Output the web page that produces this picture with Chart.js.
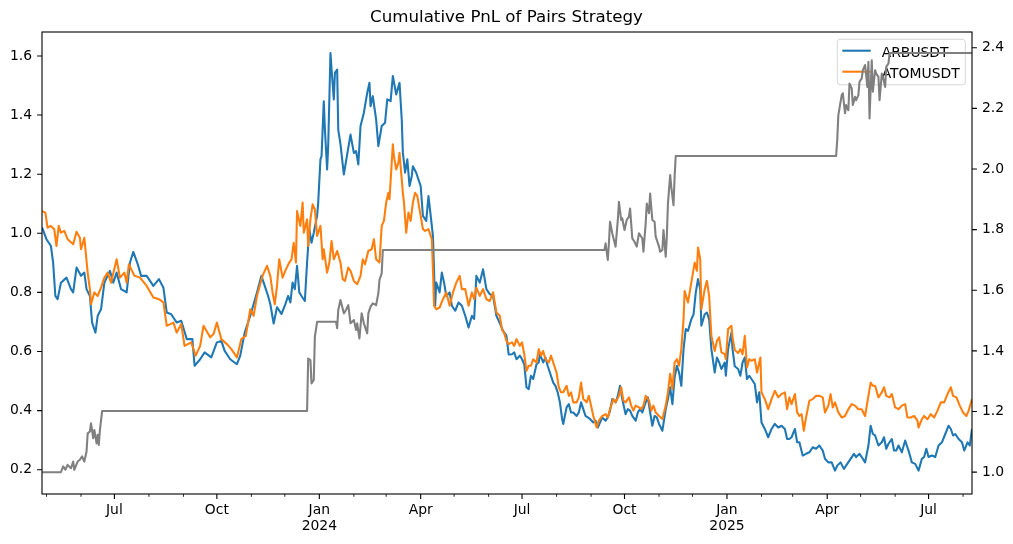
<!DOCTYPE html>
<html>
<head>
<meta charset="utf-8">
<title>Cumulative PnL of Pairs Strategy</title>
<script src="https://cdn.jsdelivr.net/npm/chart.js@4.4.1/dist/chart.umd.min.js"></script>
<style>
  html, body { margin: 0; padding: 0; background: #fff; }
  canvas { display: block; }
</style>
</head>
<body>
<canvas id="pnl_chart" width="1013" height="544"></canvas>
<script>
// x values are days counted from the first row (2023-04-27)
var startDate = Date.UTC(2023, 3, 27);
var lastDay = 835;
var monthNames = ["Jan", "Feb", "Mar", "Apr", "May", "Jun", "Jul", "Aug", "Sep", "Oct", "Nov", "Dec"];

var leftTicks = [0.2, 0.4, 0.6, 0.8, 1.0, 1.2, 1.4, 1.6];
var rightTicks = [1.0, 1.2, 1.4, 1.6, 1.8, 2.0, 2.2, 2.4];

// [day, cumulative pnl]
var arbPnl = [
  [0,1.020],[4,0.980],[8,0.957],[10,0.901],[12,0.788],[14,0.777],[17,0.833],[22,0.850],[26,0.811],[28,0.800],
  [31,0.884],[35,0.856],[38,0.867],[40,0.811],[43,0.788],[45,0.698],[48,0.664],[50,0.721],[53,0.743],[56,0.833],
  [61,0.873],[64,0.833],[67,0.867],[71,0.811],[76,0.800],[79,0.901],[82,0.937],[86,0.895],[89,0.856],[94,0.856],
  [100,0.822],[105,0.845],[109,0.816],[112,0.732],[116,0.726],[121,0.698],[125,0.704],[130,0.642],[135,0.642],[137,0.552],
  [142,0.574],[146,0.597],[152,0.580],[157,0.631],[161,0.636],[164,0.602],[169,0.574],[175,0.557],[178,0.586],[182,0.664],
  [187,0.721],[193,0.800],[197,0.856],[200,0.822],[203,0.788],[205,0.760],[208,0.695],[211,0.750],[215,0.727],[218,0.755],
  [221,0.788],[223,0.766],[225,0.833],[227,0.811],[229,0.890],[231,0.800],[233,0.788],[236,0.771],[238,0.901],[240,1.014],
  [242,0.968],[244,1.002],[247,1.059],[248,1.104],[250,1.250],[251,1.261],[253,1.447],[254,1.351],[256,1.216],[257,1.301],
  [259,1.610],[260,1.554],[262,1.453],[263,1.543],[265,1.554],[266,1.351],[268,1.301],[271,1.199],[273,1.244],[275,1.289],
  [277,1.334],[280,1.272],[282,1.278],[284,1.233],[286,1.363],[289,1.408],[292,1.475],[294,1.509],[295,1.430],[297,1.464],
  [300,1.385],[302,1.295],[305,1.363],[308,1.374],[310,1.453],[313,1.447],[315,1.532],[318,1.470],[321,1.509],[323,1.385],
  [324,1.272],[326,1.205],[328,1.250],[330,1.160],[332,1.194],[333,1.227],[336,1.205],[338,1.182],[340,1.160],[342,1.059],
  [345,1.042],[347,1.126],[349,1.059],[351,0.991],[353,0.755],[354,0.833],[357,0.800],[359,0.867],[361,0.833],[363,0.788],
  [366,0.800],[368,0.755],[371,0.738],[374,0.766],[377,0.755],[380,0.721],[383,0.681],[386,0.721],[388,0.710],[390,0.856],
  [393,0.833],[396,0.878],[399,0.811],[402,0.794],[405,0.788],[408,0.721],[411,0.696],[414,0.670],[417,0.653],[419,0.590],
  [422,0.591],[424,0.597],[426,0.574],[429,0.586],[431,0.574],[433,0.557],[435,0.479],[437,0.473],[439,0.518],[441,0.507],
  [444,0.557],[446,0.563],[447,0.591],[450,0.563],[452,0.580],[454,0.552],[456,0.529],[459,0.495],[461,0.484],[463,0.462],
  [465,0.428],[467,0.372],[468,0.355],[471,0.411],[473,0.422],[475,0.394],[477,0.394],[480,0.382],[482,0.394],[484,0.428],
  [486,0.405],[488,0.382],[490,0.377],[492,0.372],[495,0.360],[497,0.366],[499,0.343],[501,0.360],[503,0.377],[506,0.366],
  [508,0.377],[510,0.400],[512,0.439],[515,0.428],[517,0.450],[519,0.484],[521,0.439],[524,0.388],[526,0.405],[528,0.400],
  [530,0.382],[533,0.366],[535,0.394],[537,0.405],[539,0.394],[542,0.428],[544,0.445],[546,0.394],[548,0.349],[550,0.382],
  [552,0.377],[554,0.355],[557,0.332],[560,0.405],[562,0.439],[564,0.479],[566,0.422],[568,0.512],[570,0.552],[572,0.529],
  [574,0.484],[576,0.608],[578,0.676],[580,0.670],[583,0.709],[585,0.726],[587,0.800],[589,0.845],[591,0.811],[592,0.687],
  [595,0.726],[597,0.732],[599,0.709],[601,0.608],[604,0.529],[606,0.580],[608,0.563],[610,0.541],[613,0.563],[614,0.518],
  [616,0.608],[619,0.664],[620,0.608],[622,0.550],[625,0.541],[627,0.518],[629,0.563],[631,0.580],[633,0.507],[635,0.518],
  [637,0.507],[640,0.490],[642,0.428],[644,0.462],[646,0.360],[649,0.338],[652,0.310],[655,0.338],[658,0.355],[661,0.343],
  [664,0.349],[667,0.338],[669,0.304],[671,0.304],[673,0.310],[676,0.338],[678,0.293],[680,0.293],[683,0.248],[686,0.254],
  [689,0.259],[692,0.276],[695,0.271],[698,0.282],[701,0.265],[703,0.237],[706,0.225],[709,0.225],[712,0.197],[714,0.214],
  [717,0.225],[720,0.203],[723,0.220],[726,0.237],[729,0.254],[731,0.243],[734,0.254],[736,0.243],[739,0.225],[742,0.282],
  [744,0.349],[746,0.321],[748,0.316],[751,0.282],[754,0.293],[756,0.310],[758,0.271],[760,0.288],[763,0.304],[765,0.265],
  [767,0.265],[769,0.282],[772,0.259],[775,0.299],[778,0.265],[781,0.225],[784,0.220],[787,0.197],[790,0.237],[792,0.243],
  [794,0.271],[796,0.243],[799,0.248],[802,0.243],[805,0.282],[808,0.293],[811,0.321],[814,0.349],[816,0.338],[818,0.316],
  [820,0.321],[823,0.304],[826,0.293],[828,0.265],[831,0.293],[833,0.282],[835,0.338]
];

var atomPnl = [
  [0,1.075],[3,1.070],[5,1.019],[8,1.025],[11,1.014],[13,0.957],[15,1.025],[17,1.002],[20,1.008],[23,0.980],
  [28,0.963],[31,1.005],[34,0.985],[35,0.946],[38,0.985],[41,0.867],[43,0.811],[44,0.760],[47,0.800],[50,0.788],
  [53,0.816],[56,0.850],[59,0.867],[62,0.833],[67,0.912],[70,0.850],[74,0.867],[76,0.833],[78,0.895],[83,0.856],
  [88,0.850],[94,0.822],[100,0.783],[105,0.777],[109,0.766],[112,0.687],[118,0.698],[121,0.664],[125,0.693],[128,0.619],
  [134,0.631],[138,0.586],[142,0.619],[145,0.687],[151,0.648],[154,0.659],[157,0.698],[161,0.642],[166,0.625],[170,0.608],
  [175,0.580],[179,0.642],[183,0.653],[187,0.743],[190,0.721],[193,0.788],[198,0.856],[202,0.890],[205,0.856],[207,0.800],
  [209,0.760],[211,0.822],[213,0.912],[216,0.850],[219,0.878],[222,0.901],[224,0.912],[226,0.968],[228,0.901],[229,1.075],
  [232,1.025],[234,1.104],[235,1.002],[238,1.047],[239,0.957],[241,1.047],[243,1.098],[245,1.081],[247,0.991],[250,1.025],
  [252,0.912],[253,0.946],[256,0.867],[258,0.901],[260,0.974],[262,0.912],[265,0.940],[268,0.901],[270,0.845],[272,0.839],
  [275,0.884],[277,0.873],[280,0.839],[283,0.828],[286,0.856],[288,0.912],[290,0.895],[293,0.940],[296,0.946],[298,0.980],
  [300,0.912],[303,0.901],[305,1.025],[307,1.042],[309,1.104],[311,1.137],[312,1.115],[315,1.301],[316,1.261],[318,1.216],
  [320,1.239],[321,1.272],[324,1.137],[325,1.104],[327,1.002],[329,1.070],[331,1.042],[333,1.104],[335,1.137],[337,1.126],
  [339,1.081],[342,1.014],[344,1.008],[347,1.014],[350,0.980],[351,0.878],[352,0.755],[354,0.743],[357,0.749],[360,0.777],
  [363,0.800],[366,0.755],[369,0.800],[372,0.833],[375,0.856],[377,0.811],[380,0.811],[383,0.755],[386,0.800],[388,0.777],
  [390,0.816],[393,0.788],[396,0.811],[399,0.777],[402,0.771],[405,0.800],[408,0.732],[411,0.721],[413,0.675],[415,0.662],
  [417,0.636],[419,0.625],[422,0.631],[424,0.619],[426,0.642],[429,0.619],[431,0.631],[433,0.591],[435,0.535],[437,0.552],
  [439,0.552],[441,0.574],[444,0.563],[446,0.608],[448,0.586],[450,0.602],[452,0.574],[455,0.563],[457,0.586],[459,0.563],
  [462,0.529],[464,0.479],[466,0.462],[468,0.462],[471,0.484],[473,0.450],[475,0.462],[477,0.428],[480,0.428],[482,0.445],
  [484,0.495],[486,0.439],[489,0.428],[491,0.450],[493,0.417],[495,0.382],[498,0.343],[500,0.366],[503,0.382],[506,0.388],
  [508,0.377],[510,0.405],[513,0.439],[515,0.428],[518,0.450],[520,0.479],[522,0.434],[524,0.428],[527,0.445],[529,0.417],
  [531,0.400],[533,0.417],[536,0.411],[538,0.405],[540,0.417],[542,0.450],[545,0.434],[547,0.400],[549,0.417],[551,0.394],
  [554,0.382],[557,0.372],[560,0.417],[562,0.462],[564,0.525],[566,0.473],[568,0.563],[570,0.574],[572,0.552],[574,0.608],
  [576,0.709],[577,0.805],[580,0.766],[582,0.811],[584,0.856],[586,0.901],[588,0.873],[589,0.952],[591,0.912],[592,0.743],
  [595,0.811],[597,0.839],[599,0.788],[601,0.653],[604,0.602],[606,0.636],[608,0.648],[610,0.597],[613,0.591],[614,0.574],
  [616,0.676],[619,0.687],[620,0.648],[622,0.605],[625,0.595],[627,0.608],[629,0.591],[631,0.653],[633,0.546],[635,0.574],
  [637,0.569],[640,0.574],[642,0.529],[645,0.580],[646,0.462],[649,0.439],[652,0.405],[655,0.439],[658,0.467],[661,0.445],
  [664,0.456],[667,0.462],[669,0.405],[671,0.445],[673,0.422],[676,0.456],[678,0.394],[680,0.382],[682,0.388],[684,0.332],
  [686,0.377],[689,0.434],[692,0.439],[695,0.450],[698,0.450],[701,0.445],[703,0.394],[706,0.417],[708,0.456],[710,0.411],
  [712,0.428],[715,0.394],[718,0.377],[721,0.382],[724,0.405],[727,0.422],[730,0.417],[733,0.405],[736,0.405],[739,0.382],
  [742,0.450],[744,0.495],[746,0.484],[748,0.484],[751,0.445],[754,0.462],[756,0.479],[758,0.450],[761,0.445],[763,0.456],
  [766,0.411],[769,0.405],[772,0.417],[775,0.422],[777,0.377],[780,0.377],[783,0.382],[786,0.366],[787,0.343],[790,0.371],
  [792,0.382],[795,0.371],[798,0.388],[801,0.377],[804,0.400],[807,0.428],[810,0.428],[813,0.456],[816,0.479],[818,0.450],
  [821,0.445],[824,0.417],[827,0.394],[830,0.382],[832,0.400],[835,0.439]
];

// combined strategy pnl, right axis
var pairPnl = [
  [0,1.000],[17,1.000],[19,1.019],[21,1.008],[23,1.024],[26,1.013],[28,1.035],[29,1.008],[32,1.035],[34,1.041],
  [36,1.052],[38,1.035],[40,1.068],[41,1.128],[43,1.134],[44,1.161],[46,1.112],[47,1.139],[49,1.095],[50,1.123],
  [51,1.090],[52,1.139],[54,1.202],[238,1.202],[239,1.375],[241,1.370],[242,1.293],[244,1.304],[245,1.447],[247,1.496],
  [264,1.496],[265,1.475],[266,1.535],[268,1.568],[271,1.524],[273,1.535],[275,1.551],[277,1.491],[280,1.502],[282,1.469],
  [283,1.491],[285,1.441],[287,1.524],[289,1.491],[292,1.458],[293,1.524],[295,1.546],[297,1.557],[300,1.551],[302,1.590],
  [303,1.634],[305,1.656],[306,1.733],[505,1.733],[506,1.755],[508,1.700],[509,1.755],[510,1.826],[512,1.788],[515,1.744],
  [517,1.832],[518,1.892],[520,1.832],[521,1.837],[523,1.799],[525,1.832],[527,1.843],[528,1.870],[530,1.771],[532,1.760],
  [534,1.744],[536,1.788],[539,1.771],[540,1.727],[542,1.820],[543,1.886],[545,1.854],[546,1.919],[548,1.832],[550,1.826],
  [551,1.777],[554,1.744],[555,1.727],[557,1.733],[558,1.799],[560,1.711],[561,1.777],[562,1.886],[564,1.980],[565,1.941],
  [567,1.881],[568,1.975],[569,2.043],[713,2.043],[714,2.096],[715,2.178],[718,2.244],[719,2.250],[721,2.184],[722,2.211],
  [724,2.194],[725,2.282],[727,2.266],[728,2.211],[730,2.238],[731,2.227],[733,2.244],[734,2.288],[736,2.299],[737,2.326],
  [739,2.343],[740,2.310],[741,2.271],[742,2.354],[743,2.167],[745,2.359],[746,2.255],[748,2.326],[749,2.315],[751,2.304],
  [752,2.227],[754,2.315],[755,2.304],[757,2.271],[758,2.337],[760,2.348],[761,2.383],[835,2.383]
];

// month starts in range; quarter months carry labels
var monthDays = [];
var quarterDays = [];
for (var yr = 2023; yr <= 2025; yr++) {
  for (var mo = 0; mo < 12; mo++) {
    var d = (Date.UTC(yr, mo, 1) - startDate) / 864e5;
    if (d < 0 || d > lastDay) continue;
    monthDays.push({ day: d, major: mo % 3 == 0 });
    if (mo % 3 == 0) quarterDays.push(d);
  }
}

function dayLabel(v) {
  var dt = new Date(startDate + v * 864e5);
  var name = monthNames[dt.getUTCMonth()];
  if (dt.getUTCMonth() == 0) return [name, String(dt.getUTCFullYear())];
  return name;
}

function toPoints(rows) {
  return rows.map(function(r) { return { x: r[0], y: r[1] }; });
}

var fontFamily = "'DejaVu Sans', 'Liberation Sans', sans-serif";
var tickFont = { family: fontFamily, size: 13.9, lineHeight: 1.1 };

function roundedBox(ctx, x, y, w, h, r) {
  ctx.beginPath();
  ctx.moveTo(x + r, y);
  ctx.lineTo(x + w - r, y);
  ctx.arcTo(x + w, y, x + w, y + r, r);
  ctx.lineTo(x + w, y + h - r);
  ctx.arcTo(x + w, y + h, x + w - r, y + h, r);
  ctx.lineTo(x + r, y + h);
  ctx.arcTo(x, y + h, x, y + h - r, r);
  ctx.lineTo(x, y + r);
  ctx.arcTo(x, y, x + r, y, r);
  ctx.closePath();
}

// legend for the two left-axis series; drawn before the grey line so it sits under it
function drawLegend(chart) {
  var ctx = chart.ctx, a = chart.chartArea;
  var w = 128, h = 45.5;
  var x0 = a.right - 6.7 - w, y0 = a.top + 7.3;
  ctx.save();
  roundedBox(ctx, x0, y0, w, h, 3);
  ctx.fillStyle = "rgba(255,255,255,0.8)";
  ctx.fill();
  ctx.strokeStyle = "rgba(204,204,204,0.8)";
  ctx.lineWidth = 1;
  ctx.stroke();
  ctx.font = "13.9px " + fontFamily;
  ctx.textBaseline = "alphabetic";
  ctx.textAlign = "left";
  for (var i = 0; i < 2; i++) {
    var ds = chart.data.datasets[i];
    var ly = y0 + 11.4 + i * 21;
    ctx.beginPath();
    ctx.moveTo(x0 + 5, ly);
    ctx.lineTo(x0 + 33.4, ly);
    ctx.strokeStyle = ds.borderColor;
    ctx.lineWidth = 2.08;
    ctx.stroke();
    ctx.fillStyle = "#000";
    ctx.fillText(ds.label, x0 + 44.4, y0 + 17.3 + i * 21);
  }
  ctx.restore();
}

var axesFrame = {
  id: "axesFrame",
  beforeDatasetDraw: function(chart, args) {
    if (args.index === 2) drawLegend(chart);
  },
  afterDraw: function(chart) {
    var ctx = chart.ctx, a = chart.chartArea;
    var sx = chart.scales.x, sy = chart.scales.y, sy1 = chart.scales.y1;
    ctx.save();
    ctx.strokeStyle = "#000";
    ctx.lineWidth = 1.1;
    ctx.strokeRect(a.left, a.top, a.right - a.left, a.bottom - a.top);
    ctx.beginPath();
    leftTicks.forEach(function(v) {
      var py = sy.getPixelForValue(v);
      ctx.moveTo(a.left - 4.9, py); ctx.lineTo(a.left, py);
    });
    rightTicks.forEach(function(v) {
      var py = sy1.getPixelForValue(v);
      ctx.moveTo(a.right, py); ctx.lineTo(a.right + 4.9, py);
    });
    monthDays.forEach(function(m) {
      if (!m.major) return;
      var px = sx.getPixelForValue(m.day);
      ctx.moveTo(px, a.bottom); ctx.lineTo(px, a.bottom + 4.9);
    });
    ctx.stroke();
    ctx.beginPath();
    ctx.lineWidth = 0.85;
    monthDays.forEach(function(m) {
      if (m.major) return;
      var px = sx.getPixelForValue(m.day);
      ctx.moveTo(px, a.bottom); ctx.lineTo(px, a.bottom + 2.8);
    });
    ctx.stroke();
    ctx.restore();
  }
};

var pnl_ctx = document.getElementById("pnl_chart").getContext("2d");

var pnl_chart = new Chart(pnl_ctx, {
  type: "line",
  data: {
    datasets: [
      { label: "ARBUSDT", data: toPoints(arbPnl), borderColor: "#1f77b4", yAxisID: "y", order: 2 },
      { label: "ATOMUSDT", data: toPoints(atomPnl), borderColor: "#ff7f0e", yAxisID: "y", order: 1 },
      { label: "Pairs PnL", data: toPoints(pairPnl), borderColor: "#808080", yAxisID: "y1", order: 0 }
    ]
  },
  options: {
    responsive: false,
    animation: false,
    events: [],
    elements: {
      point: { radius: 0 },
      line: { borderWidth: 2.08, tension: 0, borderJoinStyle: "round", fill: false }
    },
    plugins: {
      legend: { display: false },
      tooltip: { enabled: false },
      title: {
        display: true,
        text: "Cumulative PnL of Pairs Strategy",
        color: "#000",
        font: { family: fontFamily, size: 16.67, weight: "normal", lineHeight: 1.2 },
        padding: { top: 8, bottom: 4 }
      }
    },
    scales: {
      x: {
        type: "linear",
        min: 0,
        max: lastDay,
        grid: { display: false, drawTicks: false },
        border: { display: false },
        ticks: { autoSkip: false, maxRotation: 0, padding: 9, color: "#000", font: tickFont, callback: dayLabel },
        afterBuildTicks: function(s) { s.ticks = quarterDays.map(function(v) { return { value: v }; }); },
        afterFit: function(s) { s.height = 50; }
      },
      y: {
        position: "left",
        min: 0.118,
        max: 1.681,
        grid: { display: false, drawTicks: false },
        border: { display: false },
        ticks: { padding: 10, color: "#000", font: tickFont, callback: function(v) { return v.toFixed(1); } },
        afterBuildTicks: function(s) { s.ticks = leftTicks.map(function(v) { return { value: v }; }); },
        afterFit: function(s) { s.width = 42; }
      },
      y1: {
        position: "right",
        min: 0.928,
        max: 2.452,
        grid: { display: false, drawTicks: false },
        border: { display: false },
        ticks: { padding: 10, color: "#000", font: tickFont, callback: function(v) { return v.toFixed(1); } },
        afterBuildTicks: function(s) { s.ticks = rightTicks.map(function(v) { return { value: v }; }); },
        afterFit: function(s) { s.width = 41; }
      }
    }
  },
  plugins: [axesFrame]
});
</script>
</body>
</html>
